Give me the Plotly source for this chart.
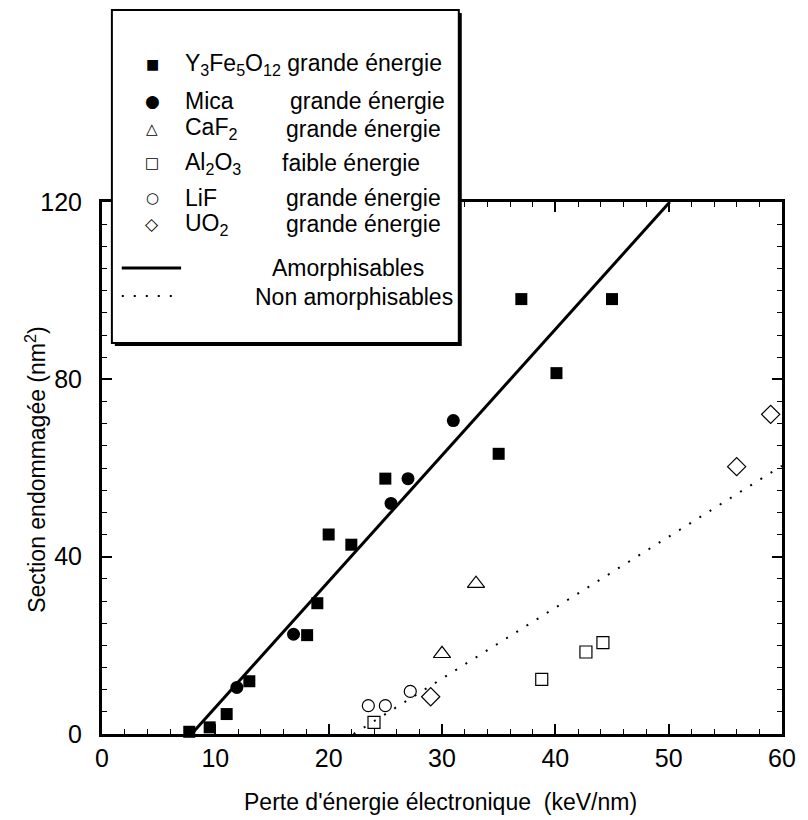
import plotly.graph_objects as go

# Y3Fe5O12 - grande energie
yig_x = [7.7, 9.5, 11.0, 13.0, 18.1, 19.0, 20.0, 22.0, 25.0, 35.0, 37.0, 40.1, 45.0]
yig_y = [0.5, 1.5, 4.5, 11.9, 22.3, 29.5, 45.0, 42.7, 57.6, 63.2, 98.1, 81.4, 98.1]
# Mica - grande energie
mica_x = [11.9, 16.9, 25.5, 27.0, 31.0]
mica_y = [10.5, 22.5, 52.0, 57.6, 70.7]
# CaF2 - grande energie
caf2_x = [30.0, 33.0]
caf2_y = [18.1, 33.9]
# Al2O3 - faible energie
al2o3_x = [24.0, 38.8, 42.7, 44.2]
al2o3_y = [2.6, 12.3, 18.5, 20.6]
# LiF - grande energie
lif_x = [23.5, 25.0, 27.2]
lif_y = [6.4, 6.4, 9.6]
# UO2 - grande energie
uo2_x = [29.0, 56.0, 59.0]
uo2_y = [8.4, 60.3, 72.1]

# fitted trends
amorph_x = [7.9, 50.1]
amorph_y = [0, 120]
non_amorph_x = [22.2, 60]
non_amorph_y = [0, 60.5]

FONT = "Liberation Sans, Arial, sans-serif"

# plot area in page pixels; the page body shifts the figure by 8px
PAGE_W, PAGE_H, BODY = 808, 820, 8
L, R, T, B = 102, 790, 202, 734


def px(x):
    return (x - L) / (R - L)


def py(y):
    return (B - y) / (B - T)


fig = go.Figure()

fig.add_trace(go.Scatter(x=amorph_x, y=amorph_y, mode='lines',
                         line=dict(color='black', width=3)))
fig.add_trace(go.Scatter(x=non_amorph_x, y=non_amorph_y, mode='lines',
                         line=dict(color='black', width=2, dash='2px,10px')))

open_line = dict(color='black', width=1.2)
fig.add_trace(go.Scatter(x=yig_x, y=yig_y, mode='markers', cliponaxis=False,
                         marker=dict(symbol='square', size=12, color='black')))
fig.add_trace(go.Scatter(x=mica_x, y=mica_y, mode='markers', cliponaxis=False,
                         marker=dict(symbol='circle', size=13, color='black')))
fig.add_trace(go.Scatter(x=caf2_x, y=caf2_y, mode='markers', cliponaxis=False,
                         marker=dict(symbol='triangle-up-open', size=15, color='black', line=open_line)))
fig.add_trace(go.Scatter(x=al2o3_x, y=al2o3_y, mode='markers', cliponaxis=False,
                         marker=dict(symbol='square-open', size=12, color='black', line=open_line)))
fig.add_trace(go.Scatter(x=lif_x, y=lif_y, mode='markers', cliponaxis=False,
                         marker=dict(symbol='circle-open', size=12, color='black', line=open_line)))
fig.add_trace(go.Scatter(x=uo2_x, y=uo2_y, mode='markers', cliponaxis=False,
                         marker=dict(symbol='diamond-open', size=14, color='black', line=open_line)))

axis_common = dict(showline=True, linewidth=3, linecolor='black', mirror='allticks',
                   ticks='inside', tickwidth=1.5, ticklen=10, tickcolor='black',
                   showgrid=False, zeroline=False,
                   tickfont=dict(family=FONT, size=25, color='black'))

fig.update_xaxes(range=[0, 60], tick0=0, dtick=10, ticklabelstandoff=0,
                 minor=dict(dtick=2, ticks='inside', ticklen=5, tickwidth=1, tickcolor='black'),
                 **axis_common)
fig.update_yaxes(range=[0, 120], tick0=0, dtick=40, ticklabelstandoff=12,
                 minor=dict(dtick=5, ticks='inside', ticklen=5, tickwidth=1, tickcolor='black'),
                 **axis_common)

shapes = []
annotations = []

# legend box with drop shadow
shapes.append(dict(type='rect', xref='paper', yref='paper', layer='above',
                   x0=px(115), x1=px(466), y0=py(13), y1=py(346),
                   fillcolor='black', line=dict(width=0)))
shapes.append(dict(type='rect', xref='paper', yref='paper', layer='above',
                   x0=px(112), x1=px(463), y0=py(10), y1=py(343),
                   fillcolor='white', line=dict(color='black', width=2)))
# legend line samples
shapes.append(dict(type='line', xref='paper', yref='paper', layer='above',
                   x0=px(122), x1=px(182), y0=py(268), y1=py(268),
                   line=dict(color='black', width=3)))
shapes.append(dict(type='line', xref='paper', yref='paper', layer='above',
                   x0=px(122), x1=px(182), y0=py(296), y1=py(296),
                   line=dict(color='black', width=2, dash='2px,10px')))

legend_rows = [
    ('■', 14, 64, 'Y<sub>3</sub>Fe<sub>5</sub>O<sub>12</sub> grande énergie', None, None),
    ('●', 17, 101, 'Mica', 'grande énergie', 290),
    ('△', 15, 129, 'CaF<sub>2</sub>', 'grande énergie', 286),
    ('□', 15, 163, 'Al<sub>2</sub>O<sub>3</sub>', 'faible énergie', 282),
    ('○', 15, 198, 'LiF', 'grande énergie', 286),
    ('◇', 17, 224, 'UO<sub>2</sub>', 'grande énergie', 286),
]
for sym, ssize, yrow, name, desc, xdesc in legend_rows:
    annotations.append(dict(text=sym, x=px(153), y=py(yrow), xref='paper', yref='paper',
                            xanchor='center', yanchor='middle', showarrow=False,
                            font=dict(family='DejaVu Sans', size=ssize, color='black')))
    annotations.append(dict(text=name, x=px(184), y=py(yrow), xref='paper', yref='paper',
                            xanchor='left', yanchor='middle', showarrow=False,
                            font=dict(family=FONT, size=23, color='black')))
    if desc:
        annotations.append(dict(text=desc, x=px(xdesc), y=py(yrow), xref='paper', yref='paper',
                                xanchor='left', yanchor='middle', showarrow=False,
                                font=dict(family=FONT, size=23, color='black')))

annotations.append(dict(text='Amorphisables', x=px(272), y=py(268), xref='paper', yref='paper',
                        xanchor='left', yanchor='middle', showarrow=False,
                        font=dict(family=FONT, size=23, color='black')))
annotations.append(dict(text='Non amorphisables', x=px(255), y=py(297), xref='paper', yref='paper',
                        xanchor='left', yanchor='middle', showarrow=False,
                        font=dict(family=FONT, size=23, color='black')))

# axis titles
annotations.append(dict(text="Perte d'énergie électronique  (keV/nm)", x=px(444), y=py(802),
                        xref='paper', yref='paper', xanchor='center', yanchor='middle',
                        showarrow=False, font=dict(family=FONT, size=23, color='black')))
annotations.append(dict(text='Section endommagée (nm<sup>2</sup>)', x=px(35), y=py(470),
                        xref='paper', yref='paper', xanchor='center', yanchor='middle',
                        textangle=-90, showarrow=False,
                        font=dict(family=FONT, size=23, color='black')))

fig.update_layout(width=PAGE_W - BODY, height=PAGE_H - BODY, showlegend=False,
                  margin=dict(l=L - BODY, r=PAGE_W - R, t=T - BODY, b=PAGE_H - B),
                  plot_bgcolor='white', paper_bgcolor='white',
                  shapes=shapes, annotations=annotations)

fig.write_html("out.html")
